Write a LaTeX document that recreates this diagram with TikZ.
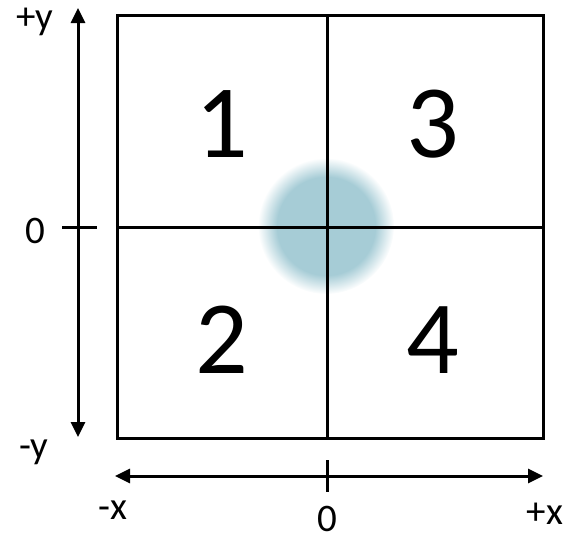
\documentclass[tikz,border=0pt]{standalone}
\usepackage{fontspec}
\setmainfont{Carlito}
\usetikzlibrary{arrows.meta,fadings}
\definecolor{blob}{RGB}{166,204,214}
\pgfdeclareradialshading{softshade}{\pgfpointorigin}{color(0bp)=(pgftransparent!0); color(18bp)=(pgftransparent!0); color(25bp)=(pgftransparent!100); color(50bp)=(pgftransparent!100)}
\pgfdeclarefading{softc}{\pgfuseshading{softshade}}
\tikzset{
  ln/.style={line width=3pt, line cap=rect},
  ax/.style={line width=3pt, {Triangle[length=15pt,width=14pt]}-{Triangle[length=15pt,width=14pt]}},
  big/.style={font=\fontsize{104}{104}\selectfont, inner sep=0pt},
  lab/.style={font=\fontsize{39}{39}\selectfont, inner sep=0pt},
}
\begin{document}
\begin{tikzpicture}[x=1pt,y=-1pt]
\useasboundingbox (0,0) rectangle (569,542);
% blurred circle
\fill[blob, path fading=softc] (326,226) circle[radius=68];
% square
\coordinate (tl) at (117,15);
\coordinate (br) at (543,438);
\draw[ln] (tl) rectangle (br);
\coordinate (vt) at (327,15);
\coordinate (vb) at (327,438);
\coordinate (hl) at (117,227);
\coordinate (hr) at (543,227);
\draw[ln] (vt) -- (vb);
\draw[ln] (hl) -- (hr);
% y axis
\coordinate (ytop) at (78,8);
\coordinate (ybot) at (78,437);
\draw[ax] (ybot) -- (ytop);
\coordinate (yt1) at (62,227);
\coordinate (yt2) at (97,227);
\draw[line width=3pt] (yt1) -- (yt2);
% x axis
\coordinate (xl) at (115,476);
\coordinate (xr) at (543,476);
\draw[ax] (xl) -- (xr);
\coordinate (xt1) at (327,460);
\coordinate (xt2) at (327,492);
\draw[line width=3pt] (xt1) -- (xt2);
% numbers
\node[big] (n1) at (222,124) {1};
\node[big] (n3) at (433,124) {3};
\node[big] (n2) at (222,340) {2};
\node[big] (n4) at (433,340) {4};
% labels
\node[lab] (py) at (35,22) {+y};
\node[lab] (y0) at (35,231) {0};
\node[lab] (my) at (34,452) {-y};
\node[lab] (mx) at (113,510) {-x};
\node[lab] (x0) at (327,519) {0};
\node[lab] (px) at (545,514) {+x};
\end{tikzpicture}
\end{document}
